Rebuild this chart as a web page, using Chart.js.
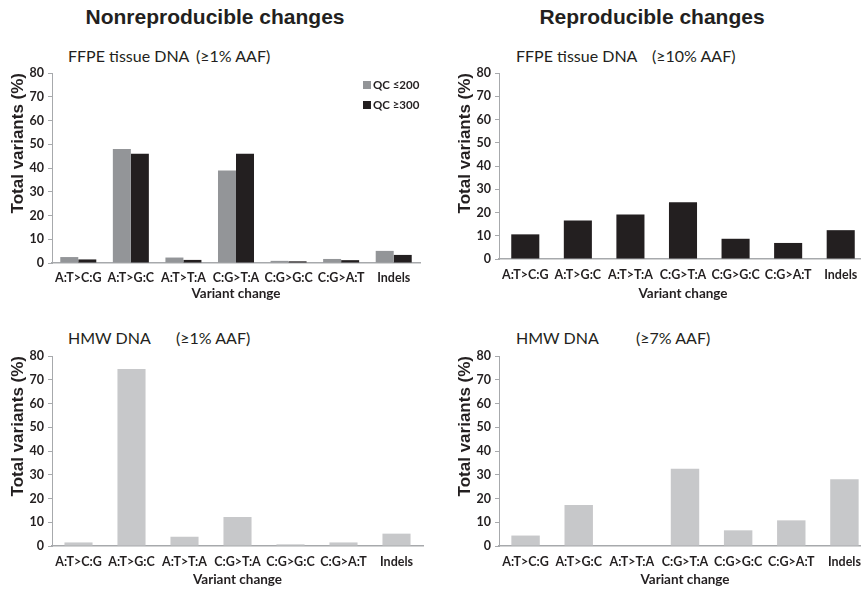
<!DOCTYPE html>
<html>
<head>
<meta charset="utf-8">
<script src="https://cdn.jsdelivr.net/npm/chart.js@4"></script>
<style>
  html, body { margin: 0; padding: 0; background: #fff; overflow: hidden; }
  #wrap { position: relative; width: 861px; height: 589px; overflow: hidden; background: #fff; }
  canvas { position: absolute; }
  .hdr { position: absolute; font-family: "Liberation Sans", Arial, sans-serif; font-weight: bold; font-size: 21px; color: #231f20; white-space: nowrap; transform: translate(-50%, -50%); }
  .sub { position: absolute; font-family: Lato, "Open Sans", sans-serif; font-size: 16px; color: #231f20; white-space: nowrap; transform: translateY(-50%); }
</style>
</head>
<body>
<div id="wrap">
  <div class="hdr" style="left:215px; top:17px;">Nonreproducible changes</div>
  <div class="hdr" style="left:652px; top:17px;">Reproducible changes</div>

  <div class="sub" style="left:68px; top:55px;">FFPE tissue DNA</div>
  <div class="sub" style="left:196px; top:55px;">(≥1% AAF)</div>
  <div class="sub" style="left:516px; top:55px;">FFPE tissue DNA</div>
  <div class="sub" style="left:652px; top:55px;">(≥10% AAF)</div>
  <div class="sub" style="left:68px; top:337px;">HMW DNA</div>
  <div class="sub" style="left:176px; top:337px;">(≥1% AAF)</div>
  <div class="sub" style="left:516px; top:337px;">HMW DNA</div>
  <div class="sub" style="left:636px; top:337px;">(≥7% AAF)</div>

  <canvas id="c1" width="430" height="262" style="left:0px; top:40px;"></canvas>
  <canvas id="c2" width="424" height="262" style="left:447px; top:40px;"></canvas>
  <canvas id="c3" width="430" height="269" style="left:0px; top:320px;"></canvas>
  <canvas id="c4" width="424" height="269" style="left:447px; top:320px;"></canvas>
</div>
<script>
// ---- data ----
const categories = ['A:T>C:G', 'A:T>G:C', 'A:T>T:A', 'C:G>T:A', 'C:G>G:C', 'C:G>A:T', 'Indels'];
const ffpeNonrepQC200 = [2.5, 48, 2.3, 39, 0.9, 1.7, 5.1];
const ffpeNonrepQC300 = [1.5, 46, 1.3, 46, 0.7, 1.2, 3.4];
const ffpeRepro = [10.6, 16.6, 19.1, 24.4, 8.7, 6.9, 12.4];
const hmwNonrep = [1.5, 74.5, 3.9, 12.2, 0.7, 1.5, 5.2];
const hmwRepro = [4.4, 17.3, 0, 32.5, 6.6, 10.8, 28.1];
const yMin = 0, yMax = 80, yStep = 10;
const legendLabels = ['QC ≤200', 'QC ≥300'];

// ---- styles ----
const TEXT = '#231f20';
const AXIS = '#a7a9ac';
const GRAY = '#939598';
const BLACK = '#231f20';
const LIGHT = '#c7c8ca';

const qcLegend = {
  id: 'qcLegend',
  afterDraw(chart, args, opts) {
    if (!opts || !opts.show) return;
    const { ctx, chartArea } = chart;
    ctx.save();
    chart.data.datasets.forEach((ds, i) => {
      const y = chartArea.top + 12 + i * 20;
      ctx.fillStyle = ds.backgroundColor;
      ctx.fillRect(chartArea.right - 57, y - 4, 8, 8);
      ctx.fillStyle = TEXT;
      ctx.font = 'bold 11.5px Lato';
      ctx.textBaseline = 'middle';
      ctx.textAlign = 'left';
      ctx.fillText(ds.label, chartArea.right - 47, y);
    });
    ctx.restore();
  }
};

function makeChart(id, datasets, cfg) {
  return new Chart(document.getElementById(id), {
    type: 'bar',
    data: { labels: categories, datasets },
    plugins: [qcLegend],
    options: {
      responsive: false,
      animation: false,
      devicePixelRatio: 1,
      layout: { padding: { top: cfg.padTop, right: cfg.padRight, left: 0, bottom: 0 } },
      datasets: { bar: { categoryPercentage: cfg.catPct, barPercentage: 1.0 } },
      plugins: {
        legend: { display: false },
        tooltip: { enabled: false },
        title: { display: false },
        qcLegend: { show: !!cfg.legend }
      },
      scales: {
        x: {
          grid: { display: false, drawTicks: false },
          border: { display: true, color: AXIS, width: 1.5 },
          ticks: { color: TEXT, font: { family: 'Lato', weight: 'bold', size: 12.5, lineHeight: 1.2 }, padding: cfg.tickPad, maxRotation: 0, autoSkip: false },
          title: { display: true, text: 'Variant change', color: TEXT, font: { family: 'Lato', weight: 'bold', size: 13.5, lineHeight: 1.2 }, padding: { top: 0, bottom: cfg.titlePad } },
          afterFit(scale) { scale.height = cfg.xHeight; }
        },
        y: {
          min: yMin, max: yMax,
          grid: { drawOnChartArea: false, drawTicks: true, tickLength: 4, color: AXIS },
          border: { display: true, color: AXIS, width: 1 },
          ticks: { stepSize: yStep, color: TEXT, font: { family: 'Lato', weight: 'bold', size: 12.5 }, padding: 4 },
          title: { display: true, text: 'Total variants (%)', align: 'end', color: TEXT, font: { family: 'Liberation Sans', weight: 'bold', size: 17, lineHeight: 1 }, padding: { top: 9.5, bottom: 0 } },
          afterFit(scale) { scale.width = 52; }
        }
      }
    }
  });
}

makeChart('c1', [
  { label: legendLabels[0], data: ffpeNonrepQC200, backgroundColor: GRAY },
  { label: legendLabels[1], data: ffpeNonrepQC300, backgroundColor: BLACK }
], { padTop: 33, padRight: 10, xHeight: 39, tickPad: 7, titlePad: 0, catPct: 0.685, legend: true });

makeChart('c2', [
  { label: 'Reproducible', data: ffpeRepro, backgroundColor: BLACK }
], { padTop: 33, padRight: 4, xHeight: 43, tickPad: 8, titlePad: 0, catPct: 0.534 });

makeChart('c3', [
  { label: 'Nonreproducible', data: hmwNonrep, backgroundColor: LIGHT }
], { padTop: 36, padRight: 7, xHeight: 43, tickPad: 8, titlePad: 1, catPct: 0.53 });

makeChart('c4', [
  { label: 'Reproducible', data: hmwRepro, backgroundColor: LIGHT }
], { padTop: 36, padRight: 0, xHeight: 43, tickPad: 8, titlePad: 1, catPct: 0.535 });
</script>
</body>
</html>
